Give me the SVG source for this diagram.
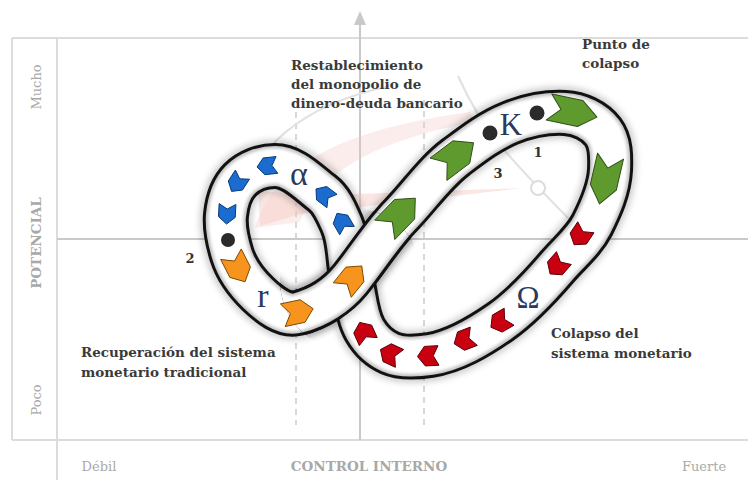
<svg xmlns="http://www.w3.org/2000/svg" width="748" height="480" viewBox="0 0 748 480">
<style>
.frame{stroke:#dcdcdc;stroke-width:2;fill:none}
.axis{stroke:#c9c9c9;stroke-width:2;fill:none}
.dash{stroke:#cfcfcf;stroke-width:1.6;fill:none;stroke-dasharray:6 5}
.faint{stroke:#e2e2e2;stroke-width:2.2;fill:none}
.glab{font-family:"DejaVu Serif","Liberation Serif",serif;font-size:13px;fill:#aaaaaa}
.glabb{font-family:"DejaVu Serif","Liberation Serif",serif;font-size:13.5px;font-weight:bold;fill:#a8a8a8}
.lab{font-family:"DejaVu Serif","Liberation Serif",serif;font-size:13.5px;font-weight:bold;fill:#3a3a3a}
.num{font-family:"DejaVu Serif","Liberation Serif",serif;font-size:13px;font-weight:bold;fill:#333}
.greek{font-family:"Liberation Serif","DejaVu Serif",serif;fill:#2c3a5e}
.r-shadow{stroke:#000;stroke-opacity:0.2;stroke-width:52;fill:none}
.r-black{stroke:#111;stroke-width:46;fill:none}
.r-gray{stroke:#c4c4c4;stroke-width:40;fill:none}
.r-white{stroke:#fff;stroke-width:35;fill:none}
.blue{fill:#1a6ccf;stroke:#0b3a78}
.orange{fill:#f7941d;stroke:#7a4a00}
.green{fill:#5f9a2e;stroke:#2f4f17}
.red{fill:#c80010;stroke:#5a0008}
.dot{fill:#2b2b2b}
</style>
<defs>
<filter id="soft" filterUnits="userSpaceOnUse" x="0" y="0" width="748" height="480"><feGaussianBlur stdDeviation="1.6"/></filter>
<filter id="shade" filterUnits="userSpaceOnUse" x="0" y="0" width="748" height="480"><feGaussianBlur stdDeviation="3"/></filter>
<path id="loop" d="M298,313 C317.9,307.9 337.1,295.8 350,280 C367.3,258.8 381.7,234.8 401,215 C419.6,195.8 434.7,173 456,157 C473,144.2 490.2,130.9 510,123 C527.3,116.1 546.4,112.1 565,113 C579.2,113.7 594.5,120.6 603,132 C610.7,142.3 610.6,157.1 610,170 C609,189.3 600.7,207.8 592,225 C583.8,241.2 568.8,253.2 557,267 C539.8,287.1 521.6,307 500,322 C478.8,336.7 455.3,351.1 430,355 C417,357 402,358.3 390,353 C379.8,348.5 370.7,339.8 365,330 C356.4,315 356.3,296.7 352,280 C347.3,262 349.4,242.1 342,225 C337,213.4 332.1,200.6 322,193 C307.6,182.2 293,166 275,166 C262.4,166 248.8,171.1 240,180 C231.2,188.9 227.3,202.4 226,215 C224.7,228.5 228,242.2 232,255 C236.7,269.8 246.8,283.2 258,294 C268.7,304.2 283.6,316.7 298,313 Z"/>
<path id="over" d="M232,255 C236.7,269.8 246.8,283.2 258,294 C268.7,304.2 283.6,316.7 298,313 C317.9,307.9 337.1,295.8 350,280 C367.3,258.8 381.7,234.8 401,215 C419.6,195.8 434.7,173 456,157 C473,144.2 490.2,130.9 510,123"/>
<clipPath id="crossClip"><circle cx="352" cy="280" r="72"/></clipPath>
<polygon id="chev" points="-10,-7 3,-7 10,0 3,7 -10,7 -5,0" stroke-width="1" vector-effect="non-scaling-stroke" stroke-linejoin="round"/>
</defs>

<g id="background">
<path class="frame" d="M12,38 H748 M12,38 V440 M57,38 V480 M12,440 H748"/>
<path class="axis" d="M57,239 H748"/>
<path class="axis" d="M360,440 V22"/>
<polygon points="360,11 354,25 366,25" fill="#c9c9c9"/>
<path class="dash" d="M296,112 V425 M424,100 V430"/>
<path class="faint" d="M238,212 C250,150 300,105 390,86"/>
<path class="faint" d="M458,76 Q476,116 500,145 T580,230"/>
<circle cx="478" cy="123" r="6.5" fill="#fff" stroke="#dcdcdc" stroke-width="2"/>
<circle cx="538" cy="188" r="7" fill="#fff" stroke="#dcdcdc" stroke-width="2"/>
<path d="M255,228 C275,165 340,130 470,112 L474,122 C380,140 320,170 300,222 Z" fill="#f2c4c0" fill-opacity="0.3"/>
<path d="M258,190 L300,196 L522,188 L300,214 L260,226 Z" fill="#f3c9c2" fill-opacity="0.45"/>
</g>

<g id="axis-labels">
<text class="glab" transform="translate(41,87) rotate(-90)" text-anchor="middle">Mucho</text>
<text class="glabb" transform="translate(41,243) rotate(-90)" text-anchor="middle">POTENCIAL</text>
<text class="glab" transform="translate(41,400) rotate(-90)" text-anchor="middle">Poco</text>
<text class="glab" x="99" y="471" text-anchor="middle">Débil</text>
<text class="glabb" x="369" y="471" text-anchor="middle">CONTROL INTERNO</text>
<text class="glab" x="704" y="471" text-anchor="middle">Fuerte</text>
</g>

<g id="ribbon">
<use href="#loop" class="r-shadow" filter="url(#shade)"/>
<use href="#loop" class="r-black"/>
<use href="#loop" class="r-gray"/>
<use href="#loop" class="r-white" filter="url(#soft)"/>
<g clip-path="url(#crossClip)">
<use href="#over" class="r-shadow" filter="url(#shade)"/>
<use href="#over" class="r-black"/>
<use href="#over" class="r-gray"/>
<use href="#over" class="r-white" filter="url(#soft)"/>
</g>
</g>

<g id="arrows">
<use href="#chev" class="blue" transform="translate(342,222) rotate(-120) scale(1,1.2)"/>
<use href="#chev" class="blue" transform="translate(324,195) rotate(-143) scale(1,1.2)"/>
<use href="#chev" class="blue" transform="translate(267,166) rotate(174) scale(1,1.2)"/>
<use href="#chev" class="blue" transform="translate(237,183) rotate(123) scale(1,1.2)"/>
<use href="#chev" class="blue" transform="translate(227,214) rotate(93) scale(1,1.2)"/>
<use href="#chev" class="orange" transform="translate(238,268) rotate(63) scale(1.55,1.65)"/>
<use href="#chev" class="orange" transform="translate(298,312) rotate(-12) scale(1.55,1.65)"/>
<use href="#chev" class="orange" transform="translate(352,278) rotate(-51) scale(1.55,1.65)"/>
<use href="#chev" class="green" transform="translate(400,214) rotate(-46) scale(2.2,2)"/>
<use href="#chev" class="green" transform="translate(456,156) rotate(-37) scale(2.2,2)"/>
<use href="#chev" class="green" transform="translate(573,112) rotate(12) scale(2.45,1.9)"/>
<use href="#chev" class="green" transform="translate(605,180) rotate(103) scale(2.45,1.9)"/>
<use href="#chev" class="red" transform="translate(580,236) rotate(124) scale(1.05,1.4)"/>
<use href="#chev" class="red" transform="translate(557,266) rotate(131) scale(1.05,1.4)"/>
<use href="#chev" class="red" transform="translate(500,322) rotate(150) scale(1.05,1.4)"/>
<use href="#chev" class="red" transform="translate(464,340) rotate(159) scale(1.05,1.4)"/>
<use href="#chev" class="red" transform="translate(428,356) rotate(177) scale(1.05,1.4)"/>
<use href="#chev" class="red" transform="translate(390,354) rotate(205) scale(1.05,1.4)"/>
<use href="#chev" class="red" transform="translate(364,332) rotate(246) scale(1.05,1.4)"/>
</g>

<g id="points">
<circle class="dot" cx="228" cy="240" r="7"/>
<circle class="dot" cx="490" cy="133" r="7.5"/>
<circle class="dot" cx="537" cy="113" r="7.5"/>
<text class="num" x="538" y="157" text-anchor="middle">1</text>
<text class="num" x="190" y="263" text-anchor="middle">2</text>
<text class="num" x="498" y="178" text-anchor="middle">3</text>
<text class="greek" x="511" y="135" font-size="31" text-anchor="middle">K</text>
<text class="greek" x="299" y="185" font-size="34" text-anchor="middle">α</text>
<text class="greek" x="263" y="307" font-size="34" text-anchor="middle">r</text>
<text class="greek" x="528" y="308" font-size="31" text-anchor="middle">Ω</text>
</g>

<g id="labels">
<text class="lab" x="291" y="70">Restablecimiento</text>
<text class="lab" x="291" y="89">del monopolio de</text>
<text class="lab" x="291" y="108">dinero-deuda bancario</text>
<text class="lab" x="582" y="49">Punto de</text>
<text class="lab" x="582" y="68">colapso</text>
<text class="lab" x="81" y="357">Recuperación del sistema</text>
<text class="lab" x="81" y="377">monetario tradicional</text>
<text class="lab" x="551" y="338">Colapso del</text>
<text class="lab" x="551" y="358">sistema monetario</text>
</g>
</svg>
